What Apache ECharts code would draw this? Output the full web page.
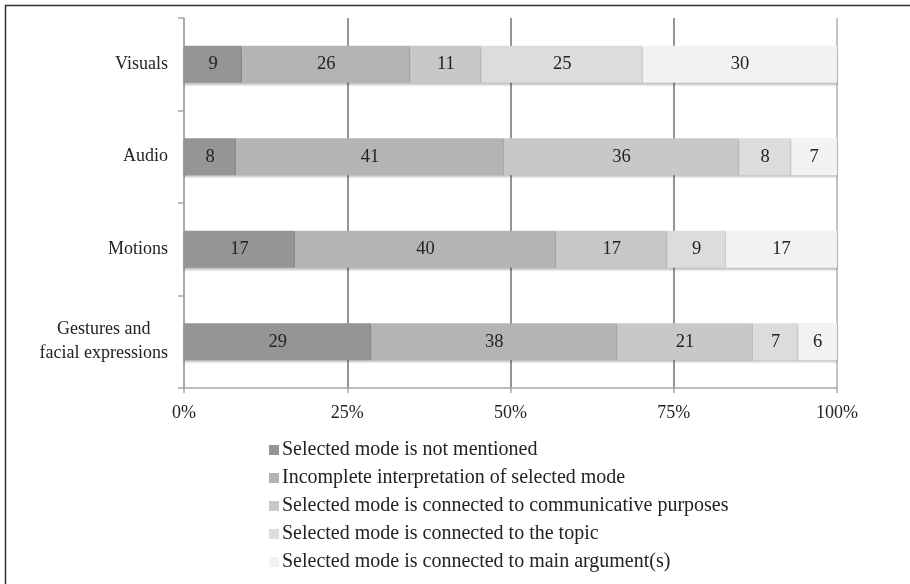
<!DOCTYPE html>
<html>
<head>
<meta charset="utf-8">
<script src="https://cdn.jsdelivr.net/npm/echarts@6/dist/echarts.min.js"></script>
<style>html,body{margin:0;padding:0;background:#fff}#c{width:910px;height:584px}</style>
</head>
<body>
<div id="c"></div>
<script>
const categories = ['Visuals', 'Audio', 'Motions', 'Gestures and\nfacial expressions'];
const seriesNames = [
  'Selected mode is not mentioned',
  'Incomplete interpretation of selected mode',
  'Selected mode is connected to communicative purposes',
  'Selected mode is connected to the topic',
  'Selected mode is connected to main argument(s)'
];
const notMentioned = [9, 8, 17, 29];
const incomplete = [26, 41, 40, 38];
const communicative = [11, 36, 17, 21];
const topic = [25, 8, 9, 7];
const mainArgument = [30, 7, 17, 6];
const xTickLabels = ['0%', '25%', '50%', '75%', '100%'];
const colors = ['#959597', '#b3b4b6', '#c7c8ca', '#dbdcde', '#f1f2f4'];

const allSeries = [notMentioned, incomplete, communicative, topic, mainArgument];
const totals = categories.map((c, i) => allSeries.reduce((s, arr) => s + arr[i], 0));

const font = '"Liberation Serif", "DejaVu Serif", serif';

const chart = echarts.init(document.getElementById('c'));
chart.setOption({
  animation: false,
  textStyle: { fontFamily: font },
  graphic: [{
    type: 'rect', left: 3, top: 3,
    shape: { width: 1200, height: 1200 },
    style: { fill: 'none', stroke: '#333', lineWidth: 1.5 }, z: 100
  }],
  grid: { left: 184, right: 73, top: 18, bottom: 196 },
  xAxis: {
    type: 'value', min: 0, max: 100, interval: 25,
    axisLine: { show: true, lineStyle: { color: '#a8a8a8', width: 1.5 } },
    axisTick: { show: true, length: 5, lineStyle: { color: '#a8a8a8', width: 1.5 } },
    axisLabel: {
      margin: 16, color: '#222', fontSize: 18, fontFamily: font,
      formatter: (v) => xTickLabels[Math.round(v / 25)]
    },
    splitLine: { show: true, lineStyle: { color: ['#999', '#707070', '#707070', '#707070', '#b0b0b0'], width: 1.5 } }
  },
  yAxis: {
    type: 'category', data: categories, inverse: true,
    axisLine: { show: true, lineStyle: { color: '#a8a8a8', width: 1.5 } },
    axisTick: { show: true, length: 6, lineStyle: { color: '#a8a8a8', width: 1.5 } },
    axisLabel: {
      margin: 16, color: '#222', fontSize: 18, fontFamily: font, lineHeight: 24,
      formatter: (v) => v.split('\n').map(s => '{a|' + s + '}').join('\n'),
      rich: { a: { align: 'center', fontSize: 18, fontFamily: font, color: '#222', lineHeight: 24 } }
    }
  },
  legend: {
    orient: 'vertical', left: 264, top: 435,
    itemWidth: 10, itemHeight: 10, itemGap: 8,
    icon: 'rect',
    textStyle: { color: '#222', fontSize: 20, lineHeight: 20, fontFamily: font, padding: [0, 0, 0, -2] },
    data: seriesNames
  },
  series: allSeries.map((arr, k) => ({
    name: seriesNames[k],
    type: 'bar',
    stack: 'total',
    barWidth: 37,
    itemStyle: { color: colors[k], shadowColor: 'rgba(0,0,0,0.25)', shadowOffsetY: 2, shadowBlur: 2 },
    label: {
      show: true, position: 'inside', color: '#222', fontSize: 18.5, fontFamily: font,
      formatter: (p) => String(arr[p.dataIndex])
    },
    data: arr.map((v, i) => v / totals[i] * 100)
  }))
});
</script>
</body>
</html>
